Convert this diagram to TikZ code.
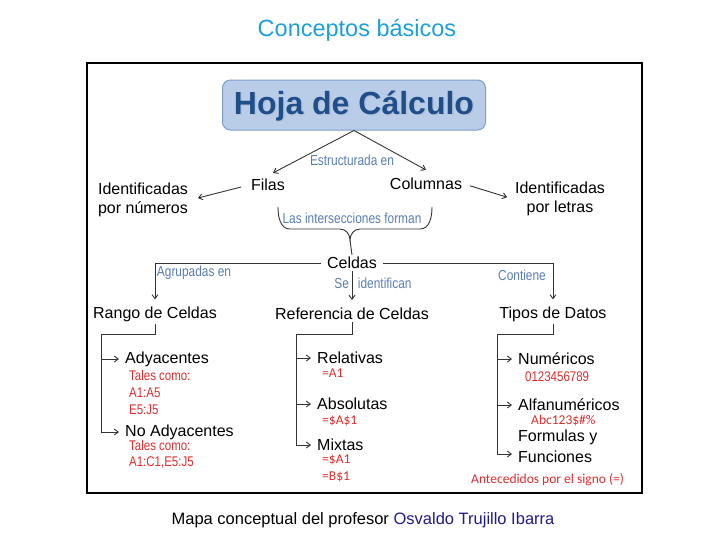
\documentclass[tikz,border=0pt]{standalone}
\usepackage{fontspec}
\setmainfont{Liberation Sans}
\newfontfamily\carlito{Carlito}
\newfontfamily\narrowsans[FakeStretch=0.82]{Liberation Sans}
\usetikzlibrary{arrows.meta,positioning,calc}
\definecolor{titlecyan}{HTML}{1CA0DC}
\definecolor{hojafill}{HTML}{B9CDE8}
\definecolor{hojaline}{HTML}{7F9CCB}
\definecolor{hojatext}{HTML}{1F4E8A}
\definecolor{linkblue}{HTML}{5A7DB5}
\definecolor{notered}{HTML}{E32B2B}
\definecolor{authorblue}{HTML}{1F1A8C}

\begin{document}
\begin{tikzpicture}[
  x=1pt, y=-1pt,
  font=\fontsize{16}{19}\selectfont, >={Straight Barb[length=4pt,width=6pt]},
  concept/.style={inner sep=2pt, align=center},
  leaf/.style={inner sep=1pt, anchor=west, align=left},
  link/.style={font=\narrowsans\fontsize{14.5}{16}\selectfont, text=linkblue, inner sep=1pt},
  note/.style={font=\narrowsans\fontsize{14}{16}\selectfont, text=notered, anchor=west, inner sep=0pt},
  cnote/.style={font=\carlito\fontsize{13.5}{15}\selectfont, text=notered, anchor=west, inner sep=0pt},
  conn/.style={draw=black!80, line width=0.9pt},
  arr/.style={conn, ->}
]
\useasboundingbox (0,0) rectangle (728,546);

% -- Title above the frame, frame round the whole map.
\node[text=titlecyan, font=\fontsize{23.5}{27}\selectfont] (title) at (357,30) {Conceptos básicos};
\draw[line width=2.5pt] (87,63) rectangle (642,493);

% -- Root box with a soft shadowed heading.
\node[draw=hojaline, fill=hojafill, rounded corners=8pt, line width=1pt,
      minimum width=263pt, minimum height=50pt] (hoja) at (354,105) {};
\node[text=hojatext!35, font=\bfseries\fontsize{32}{36}\selectfont] at (355.5,107.5) {Hoja de Cálculo};
\node[text=hojatext, font=\bfseries\fontsize{32}{36}\selectfont] (hojatxt) at (354,106) {Hoja de Cálculo};

% -- Rows and columns.
\node[concept] (filas)    at (268,185) {Filas};
\node[concept] (columnas) at (426,184) {Columnas};
\node[concept] (idnum)    at (143,200) {Identificadas\\por números};
\node[concept] (idlet)    at (560,199) {Identificadas\\por letras};

\draw[arr] (hoja.south) -- ([xshift=5pt,yshift=4pt]filas.north);
\draw[arr] (hoja.south) -- ([yshift=6pt]columnas.north);
\node[link] at (352,160) {Estructurada en};
\draw[arr, shorten <=8pt, shorten >=8pt] (filas.west) -- (idnum.east);
\draw[arr, shorten <=6pt, shorten >=6pt] (columnas.east) -- (idlet.west);

% -- Brace gathering rows and columns into cells.
\node[concept] (celdas) at (352,263) {Celdas};
\coordinate (bl) at (278,207);
\coordinate (bc) at (350,240);
\coordinate (br) at (432,207);
\draw[conn] (bl) to[out=-90,in=180] (290,229) -- (340,229) to[out=0,in=90] (bc)
            to[out=90,in=180] (360,229) -- (420,229) to[out=0,in=-90] (br);
\draw[conn] (bc) -- (celdas.north);
\node[link] at (352,218) {Las intersecciones forman};

% -- Three branches out of the cells.
\node[concept] (rango)      at (155,314) {Rango de Celdas};
\node[concept] (referencia) at (352,314) {Referencia de Celdas};
\node[concept] (tipos)      at (553,314) {Tipos de Datos};

\draw[arr, shorten <=4pt, shorten >=5pt] (celdas.west) -| (rango.north);
\draw[arr, shorten <=4pt, shorten >=5pt] (celdas.east) -| (tipos.north);
\draw[arr, shorten >=6pt] (celdas.south) -- (referencia.north);
\node[link] at (194,273) {Agrupadas en};
\node[link] at (522,275) {Contiene};
\node[link] at (373,283) {Se\hspace{9pt}identifican};

% -- Cell ranges.
\node[leaf] (ady)   at (124,359) {Adyacentes};
\node[leaf] (noady) at (124,432) {No Adyacentes};
\node[note] at (129,375) {Tales como:};
\node[note] at (129,393) {A1:A5};
\node[note] at (129,410) {E5:J5};
\node[note] at (129,445) {Tales como:};
\node[note] at (129,463) {A1:C1,E5:J5};
\coordinate (rj) at (101,334);
\draw[conn] (rango.south) |- (rj);
\draw[arr, shorten >=5pt] (rj) |- (noady.west);
\draw[arr, shorten >=5pt] (rj |- ady.west) -- (ady.west);

% -- Cell references.
\node[leaf] (rel) at (316,358) {Relativas};
\node[leaf] (abs) at (316,404) {Absolutas};
\node[leaf] (mix) at (316,445) {Mixtas};
\node[cnote] at (322,373) {=A1};
\node[cnote] at (322,421) {=\$A\$1};
\node[cnote] at (322,460) {=\$A1};
\node[cnote] at (322,477) {=B\$1};
\coordinate (fj) at (296,334);
\draw[conn] (referencia.south) |- (fj);
\draw[arr, shorten >=5pt] (fj) |- (mix.west);
\draw[arr, shorten >=5pt] (fj |- rel.west) -- (rel.west);
\draw[arr, shorten >=5pt] (fj |- abs.west) -- (abs.west);

% -- Data types.
\node[leaf] (num)  at (517,359) {Numéricos};
\node[leaf] (alfa) at (517,405) {Alfanuméricos};
\node[leaf] (form) at (517,446) {Formulas y\\[2pt]Funciones};
\node[note] at (525,377) {0123456789};
\node[cnote] at (531,421) {Abc123\$\#\%};
\node[cnote] at (471,480) {Antecedidos por el signo (=)};
\coordinate (tj) at (497,334);
\draw[conn] (tipos.south) |- (tj);
\draw[arr, shorten >=5pt] (tj) |- ([yshift=-8pt]form.west);
\draw[arr, shorten >=5pt] (tj |- num.west) -- (num.west);
\draw[arr, shorten >=5pt] (tj |- alfa.west) -- (alfa.west);

% -- Credit line under the frame.
\node[font=\fontsize{16.5}{19}\selectfont] (credit) at (363,520)
  {Mapa conceptual del profesor \textcolor{authorblue}{Osvaldo Trujillo Ibarra}};
\end{tikzpicture}
\end{document}
